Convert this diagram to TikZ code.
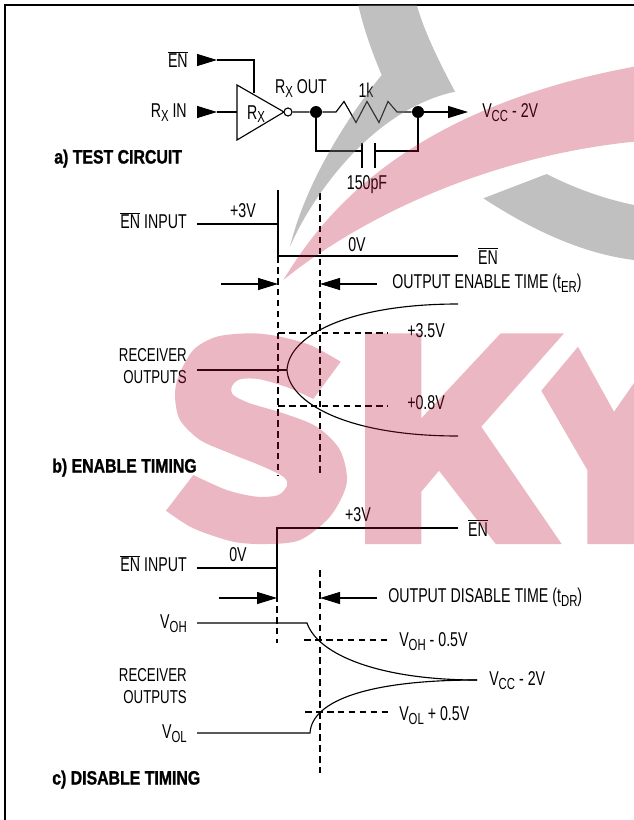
\documentclass[tikz,border=0pt]{standalone}
\usepackage{fontspec}
\setmainfont[FakeStretch=.71,BoldFeatures={FakeStretch=.82,FakeBold=1.2}]{Liberation Sans}
\usetikzlibrary{arrows.meta}
\newcommand{\enbar}{$\overline{\mbox{EN}}$}
\newcommand{\lowsub}[1]{\raisebox{-.35ex}{\fontsize{12}{13}\selectfont #1}}
\definecolor{skypink}{RGB}{185,18,52}
\definecolor{skygrey}{RGB}{115,115,115}
\tikzset{
  lab/.style={inner sep=0pt,yshift=-1.5pt,font=\fontsize{15}{16.5}\selectfont},
  twolines/.style={inner sep=0pt,anchor=east,align=right,font=\fontsize{14}{16.5}\selectfont},
  title/.style={inner sep=0pt,yshift=-1.5pt,anchor=mid west,font=\fontsize{14.5}{15}\selectfont\bfseries},
  wire/.style={line width=.85pt},
  pin/.style={wire,-{Triangle[length=15pt,width=9pt]}},
  dashline/.style={line width=.8pt,dash pattern=on 5pt off 3.2pt},
  joint/.style={circle,fill=black,inner sep=0pt,minimum size=9pt},
  bubble/.style={circle,draw,wire,fill=white,inner sep=0pt,minimum size=6pt}
}
\begin{document}
\begin{tikzpicture}[x=.75pt,y=-.75pt]
\useasboundingbox (0,0) rectangle (634,820);
\draw[line width=1.5pt] (634,5)--(5,5)--(5,820);
% test circuit
\node[lab,anchor=mid east] (enin) at (188,62) {\enbar};
\node[lab,anchor=mid east] (rxin) at (187,112) {R\lowsub{X} IN};
\coordinate (enstart) at (197,60);
\coordinate (entip) at (217,60);
\coordinate (enturn) at (254,60);
\coordinate (enend) at (254,93);
\coordinate (instart) at (197,112);
\coordinate (intip) at (217,112);
\coordinate (inend) at (237,112);
\draw[pin] (enstart)--(entip);
\draw[wire] (entip)--(enturn)--(enend);
\draw[pin] (instart)--(intip);
\draw[wire] (intip)--(inend);
\draw[wire] (237,85)--(284,112)--(237,140)--cycle;
\node[lab] (rxname) at (256,112) {R\lowsub{X}};
\node[bubble] (rxbub) at (288,112) {};
\node[joint] (jleft) at (316,112) {};
\node[joint] (jright) at (418,112) {};
\node[lab,anchor=mid] (rxout) at (301,88) {R\lowsub{X} OUT};
\node[lab] (rval) at (366,88) {1k};
\node[lab] (cval) at (367,183) {150pF};
\draw[wire] (rxbub)--(jleft)--(336,112)--(344,101.5)--(356,122.5)--(367,101.5)--(379,122.5)--(388,101.5)--(397,112)--(jright);
\coordinate (vtip) at (468,112);
\draw[pin] (jright)--(vtip);
\node[lab,anchor=mid west] (vcca) at (482,112) {V\lowsub{CC} - 2V};
\draw[wire] (jleft)--(316,151)--(362,151);
\draw[wire] (jright)--(418,151)--(375,151);
\draw[wire] (362,143)--(362,168) (375,143)--(375,168);
\node[title] (ta) at (54,158) {a) TEST CIRCUIT};
% enable timing
\node[lab,anchor=mid east] (ena) at (187,223) {\enbar{} INPUT};
\node[lab] (hia) at (243,209) {+3V};
\node[lab] (loa) at (357,243) {0V};
\node[lab] (enb) at (488,254) {\enbar};
\draw[wire] (197,224)--(278,224) (278,190)--(278,256)--(458,256);
\draw[dashline] (278,256)--(278,475) (320,193)--(320,475);
\draw[pin] (221,284)--(278,284);
\draw[pin] (377,284)--(320,284);
\node[lab,anchor=mid west] (tera) at (392,283) {OUTPUT ENABLE TIME (t\lowsub{ER})};
\draw[wire] (458,304) .. controls (352,304) and (289,334) .. (287,370) .. controls (289,402) and (345,436) .. (458,436);
\draw[wire] (197,370)--(287,370);
\draw[dashline] (278,333)--(388,333) (278,406)--(388,406);
\node[lab,anchor=mid west] (hib) at (407,332) {+3.5V};
\node[lab,anchor=mid west] (lob) at (407,404) {+0.8V};
\node[twolines] (rcva) at (187,366) {RECEIVER\\OUTPUTS};
\node[title] (tb) at (52,467) {b) ENABLE TIMING};
% disable timing
\node[lab,anchor=mid east] (enc) at (187,566) {\enbar{} INPUT};
\node[lab] (loc) at (238,553) {0V};
\node[lab] (hic) at (358,513) {+3V};
\node[lab] (end) at (478,526) {\enbar};
\draw[wire] (197,568)--(277,568) (277,595)--(277,528)--(458,528);
\draw[dashline] (277,595)--(277,643) (320,570)--(320,773);
\draw[pin] (219,598)--(277,598);
\draw[pin] (377,598)--(320,598);
\node[lab,anchor=mid west] (tdra) at (388,597) {OUTPUT DISABLE TIME (t\lowsub{DR})};
\node[lab,anchor=mid east] (voh) at (187,623) {V\lowsub{OH}};
\node[lab,anchor=mid east] (vol) at (187,733) {V\lowsub{OL}};
\draw[wire] (197,623)--(307,623) .. controls (318,655) and (380,680) .. (477,680);
\draw[wire] (197,733)--(310,733) .. controls (312,700) and (370,680) .. (477,680);
\draw[dashline] (304,640)--(387,640) (305,712)--(388,712);
\node[lab,anchor=mid west] (vohb) at (399,641) {V\lowsub{OH} - 0.5V};
\node[lab,anchor=mid west] (volb) at (399,715) {V\lowsub{OL} + 0.5V};
\node[lab,anchor=mid west] (vccb) at (489,680) {V\lowsub{CC} - 2V};
\node[twolines] (rcvb) at (187,686) {RECEIVER\\OUTPUTS};
\node[title] (tc) at (52,779) {c) DISABLE TIMING};
% watermark over the drawing
\fill[skygrey,opacity=.45] (358.3,5) .. controls (364,30) and (372,52) .. (381.7,75)
  .. controls (345,120) and (305,185) .. (290,246.7)
  .. controls (310,200) and (370,110) .. (455,91.7)
  .. controls (436,56) and (424,30) .. (416.7,5)--cycle;
\fill[skygrey,opacity=.45] (483.3,198.3)--(546.7,174)
  .. controls (570,186) and (600,198) .. (634,205)--(634,260)
  .. controls (585,254) and (535,232) .. (483.3,198.3)--cycle;
\fill[skypink,opacity=.3] (283.3,280) .. controls (320,220) and (400,110) .. (634,66.7)--(634,141.7)
  .. controls (500,155) and (370,210) .. (283.3,280)--cycle;
\fill[skypink,opacity=.3] plot[smooth] coordinates {(340.7,361.7)(310,345)(276.7,336)(250,333.3)(216.7,336.7)(193.3,350)(178.3,376.7)(175,396.7)(180,420)(200,440)(230,453.3)(263.3,466.7)(283.3,476.7)(287.3,485)(278.3,495)(256.7,496.7)(226.7,490)(193.3,475)}
  --(166,510.7)-- plot[smooth] coordinates {(166,510.7)(193.3,528.3)(233.3,541.7)(266.7,544)(300,540)(330,516.7)(346.7,483.3)(340,450)(316.7,426.7)(283.3,413.3)(250,403.3)(233.3,395)(231.7,386.7)(240,379.3)(260,379.3)(290,388.3)(313.3,399)}--cycle;
\fill[skypink,opacity=.3] (365,333.3)--(421.3,333.3)--(421.3,418.3)--(500.7,333.3)--(564,333.3)--(481.3,426.7)--(561.7,544)--(495.7,544)--(439,470.7)--(421.3,491.7)--(421.3,544)--(365,544)--cycle;
\fill[skypink,opacity=.3] (578,346.7)--(614,411.7)--(634,383)--(634,544)--(587.3,544)--(587.3,470)--(541.3,390.7)--cycle;
\end{tikzpicture}
\end{document}
